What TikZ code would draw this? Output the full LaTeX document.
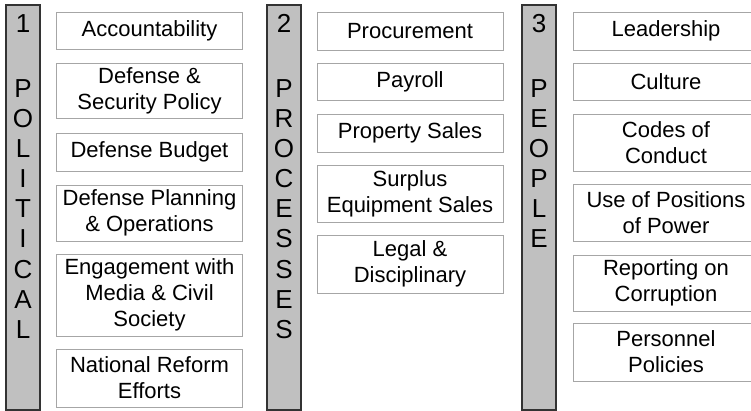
\documentclass[tikz,border=0pt]{standalone}
\usepackage{fontspec}
\setmainfont{Liberation Sans}
\usepackage{tikz}
\usepackage{xcolor}
\usetikzlibrary{shapes, positioning}

\definecolor{bargray}{HTML}{C0C0C0}
\definecolor{boxline}{HTML}{A6A6A6}

\begin{document}
\begin{tikzpicture}[x=1pt, y=-1pt,
        bar/.style={rectangle, draw=black!80, line width=1.1pt, fill=bargray, minimum width=34pt, minimum height=405pt, inner sep=0pt},
        barletter/.style={anchor=base, inner sep=0pt, font=\fontsize{26}{30}\selectfont},
        item/.style={rectangle, draw=boxline, line width=0.9pt, fill=white, minimum width=186pt, inner sep=0pt, align=center, font=\fontsize{22}{26}\selectfont}]
        \useasboundingbox (0, 0) rectangle (751, 411);

        % the three pillars
        \node[bar] (pol) at (23, 207.5) {};
        \node[bar] (pro) at (284, 207.5) {};
        \node[bar] (peo) at (539, 207.5) {};

        \node[barletter] (pol-n) at (23, 33) {1};
        \node[barletter] (pro-n) at (284, 33) {2};
        \node[barletter] (peo-n) at (539, 33) {3};

        \foreach \ch [count=\i from 0] in {P,O,L,I,T,I,C,A,L}
            \node[barletter] (pol-\i) at (23, {98+30*\i}) {\ch};
        \foreach \ch [count=\i from 0] in {P,R,O,C,E,S,S,E,S}
            \node[barletter] (pro-\i) at (284, {98+30*\i}) {\ch};
        \foreach \ch [count=\i from 0] in {P,E,O,P,L,E}
            \node[barletter] (peo-\i) at (539, {98+30*\i}) {\ch};

        % political
        \node[item, minimum height=37pt] (acc) at (149.5, 30.5) {Accountability};
        \node[item, minimum height=55pt] (dsp) at (149.5, 90.5) {Defense \&\\Security Policy};
        \node[item, minimum height=38pt] (bud) at (149.5, 152) {Defense Budget};
        \node[item, minimum height=56pt] (dpo) at (149.5, 213) {Defense Planning\\\& Operations};
        \node[item, minimum height=82pt] (eng) at (149.5, 295) {Engagement with\\Media \& Civil\\Society};
        \node[item, minimum height=58pt] (nre) at (149.5, 378) {National Reform\\Efforts};

        % processes
        \node[item, minimum height=38pt] (proc) at (410, 31) {Procurement};
        \node[item, minimum height=37pt] (pay) at (410, 81.5) {Payroll};
        \node[item, minimum height=38pt] (prop) at (410, 133) {Property Sales};
        \node[item, minimum height=57pt] (surp) at (410, 193.5) {Surplus\\Equipment Sales};
        \node[item, minimum height=58pt] (legal) at (410, 264) {Legal \&\\Disciplinary};

        % people
        \node[item, minimum height=38pt] (lead) at (666, 31) {Leadership};
        \node[item, minimum height=37pt] (cult) at (666, 81.5) {Culture};
        \node[item, minimum height=57pt] (codes) at (666, 142.5) {Codes of\\Conduct};
        \node[item, minimum height=57pt] (power) at (666, 212.5) {Use of Positions\\of Power};
        \node[item, minimum height=56pt] (rep) at (666, 283) {Reporting on\\Corruption};
        \node[item, minimum height=58pt] (pers) at (666, 352) {Personnel\\Policies};
    \end{tikzpicture}
\end{document}
